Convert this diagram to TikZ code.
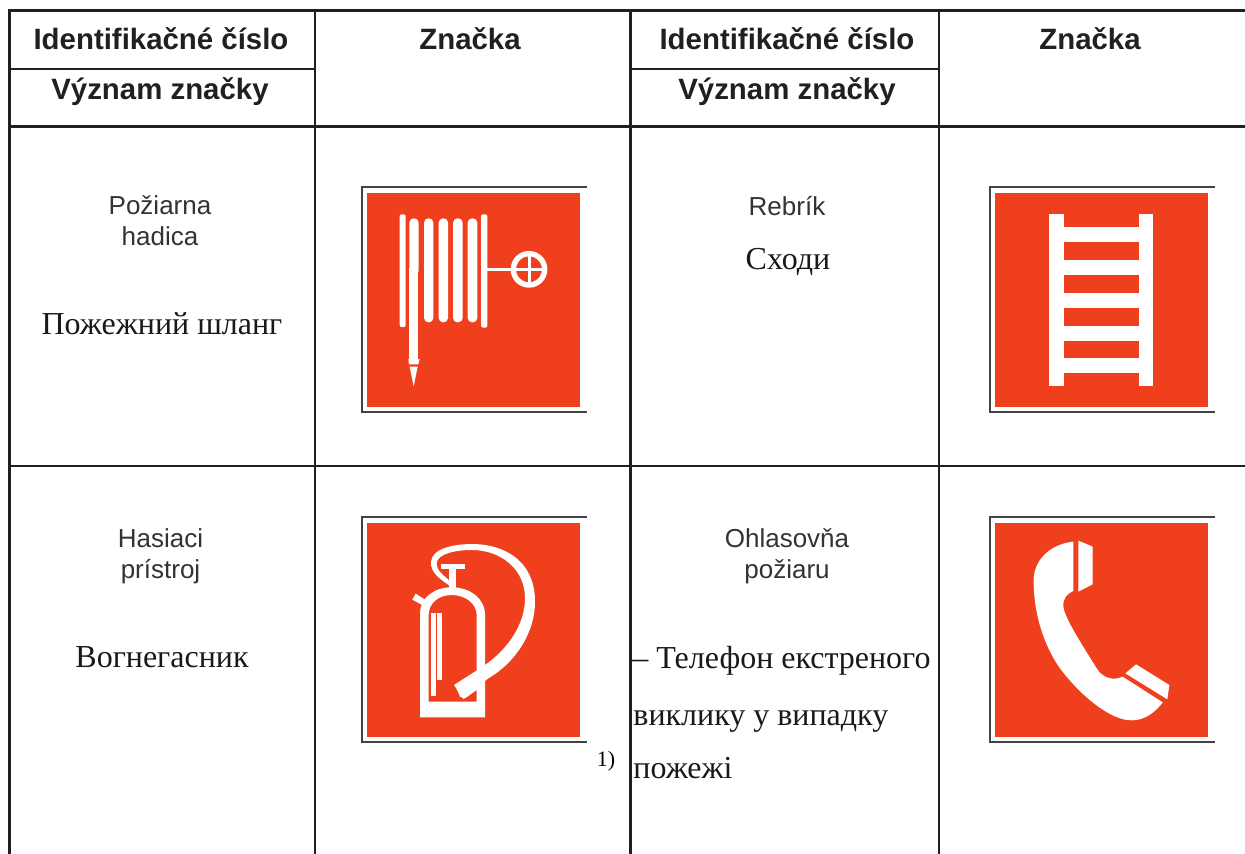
\documentclass[tikz,border=0pt]{standalone}
\usepackage{fontspec}
\setmainfont{Liberation Sans}
\newfontfamily\serifuk{Liberation Serif}
\definecolor{signred}{HTML}{F03F1C}
\definecolor{rule}{HTML}{231F20}
\tikzset{
  gridline/.style={draw=rule,line width=1.4pt},
  thingrid/.style={draw=rule,line width=1pt},
  head/.style={font=\fontsize{14.7}{16}\selectfont\bfseries,inner sep=0pt,anchor=base,text=rule},
  sk/.style={font=\fontsize{13}{15}\selectfont,inner sep=0pt,anchor=base,text=black!80},
  uk/.style={font=\serifuk\fontsize{16}{16}\selectfont,inner sep=0pt,anchor=base,text=black!90},
  ukl/.style={font=\serifuk\fontsize{16}{16}\selectfont,inner sep=0pt,anchor=base west,text=black!90},
  wh/.style={fill=white,draw=none},
  whl/.style={draw=white,fill=none}
}
\newcommand{\signbase}[4]{%
  \draw[draw=rule!85!white,line width=1pt] (#4,37) -- (#1,37) -- (#1,712) -- (#4,712);
  \fill[signred] (#2,53) rectangle (#3,695);
}
\begin{document}
\begin{tikzpicture}[x=0.5pt,y=-0.5pt]
\useasboundingbox (0,0) rectangle (1245,854);
\fill[white] (0,0) rectangle (1245,854);
% grid
\draw[gridline] (9.5,854) -- (9.5,10.7) -- (1245,10.7);
\draw[thingrid] (315,10) -- (315,854);
\draw[gridline] (630.5,10) -- (630.5,854);
\draw[thingrid] (939,10) -- (939,854);
\draw[gridline] (9,126.8) -- (1245,126.8);
\draw[thingrid] (9,466) -- (1245,466);
\draw[thingrid] (9,68.8) -- (315,68.8);
\draw[thingrid] (631,68.8) -- (939,68.8);
% header
\node[head] (h1) at (161,50) {Identifikačné číslo};
\node[head] (h2) at (160,100) {Význam značky};
\node[head] (h3) at (470,50) {Značka};
\node[head] (h4) at (787,50) {Identifikačné číslo};
\node[head] (h5) at (787,100) {Význam značky};
\node[head] (h6) at (1090,50) {Značka};
% row 1
\node[sk] (t1a) at (160,215) {Požiarna};
\node[sk] (t1b) at (160,246) {hadica};
\node[uk] (u1) at (162,335) {Пожежний шланг};
\node[sk] (t2) at (787,216) {Rebrík};
\node[uk] (u2) at (788,270) {Сходи};
% row 2
\node[sk] (t3a) at (160.5,547) {Hasiaci};
\node[sk] (t3b) at (160.5,578) {prístroj};
\node[uk] (u3) at (162,667) {Вогнегасник};
\node[sk] (t4a) at (787,547) {Ohlasovňa};
\node[sk] (t4b) at (787,578) {požiaru};
\node[ukl] (u4) at (632,668) {– Телефон екстреного};
\node[ukl] (u5) at (633,725) {виклику у випадку};
\node[ukl] (u6) at (633,778) {пожежі};
\node[font=\serifuk\fontsize{11}{11}\selectfont,inner sep=0pt,anchor=base] (fn) at (606,766) {1)};
% hose sign
\begin{scope}[shift={(350,175)},x=0.16667pt,y=-0.16667pt]
\signbase{36}{52}{690}{711}
\fill[wh,rounded corners=1pt] (149,118) rectangle (167,456);
\fill[wh,rounded corners=1pt] (393,118) rectangle (412,458);
\foreach \a/\b in {222/250,266/294,309/338,353/382}
  \fill[wh,rounded corners=2.2pt] (\a,130) rectangle (\b,442);
\fill[wh,rounded corners=2.2pt] (178,300) -- (178,130) -- (206,130) -- (206,300) -- cycle;
\fill[wh] (178,280) rectangle (204,552);
\fill[wh] (175,552) -- (209,552) -- (205,568) -- (177,568) -- cycle;
\fill[wh] (179,575) -- (203,575) -- (191,634) -- cycle;
\draw[whl,line width=1.7pt] (410,283) -- (490,283);
\draw[whl,line width=2.7pt] (537,283) circle[radius=47];
\draw[whl,line width=1.5pt] (491,283) -- (583,283) (537,237) -- (537,330);
\end{scope}
% ladder sign
\begin{scope}[shift={(980,175)},x=0.16667pt,y=-0.16667pt]
\signbase{29}{44}{685}{705}
\fill[wh] (208,118) rectangle (253,632);
\fill[wh] (476,118) rectangle (520,632);
\foreach \y in {157,256,354,452,549}
  \fill[wh] (253,\y) rectangle (476,\y+45);
\end{scope}
% extinguisher sign
\begin{scope}[shift={(350,505)},x=0.16667pt,y=-0.16667pt]
\signbase{36}{52}{690}{711}
% body
\fill[wh,even odd rule]
  (210,637) -- (210,325) .. controls (210,280) and (250,247) .. (305,247)
  .. controls (360,247) and (405,280) .. (405,330) -- (405,637) -- cycle
  (236,590) -- (380,590) -- (380,555) -- (345,580) -- (330,575) -- (315,540) -- (380,500) -- (380,330)
  .. controls (380,295) and (345,270) .. (305,270) .. controls (265,270) and (236,295) .. (236,330) -- cycle;
\fill[wh] (236,596) rectangle (380,604);
\fill[wh] (243,325) rectangle (257,574);
\fill[wh] (262,325) rectangle (277,524);
% lever
\fill[wh] (197,266) -- (232,288) -- (220,302) -- (187,284) -- cycle;
\fill[wh] (273,178) rectangle (345,193);
\fill[wh] (298,190) -- (318,190) -- (318,250) -- (298,250) -- cycle;
% hose
\fill[wh] (300,243) .. controls (275,225) and (240,205) .. (243,170)
  .. controls (247,130) and (310,117) .. (370,117)
  .. controls (480,120) and (555,180) .. (555,290)
  .. controls (555,380) and (500,470) .. (415,520)
  -- (340,582) -- (312,540) -- (390,490)
  .. controls (470,440) and (525,360) .. (525,280)
  .. controls (525,190) and (450,135) .. (365,135)
  .. controls (320,135) and (262,145) .. (260,175)
  .. controls (258,200) and (290,215) .. (305,235) -- cycle;
\end{scope}
% phone sign
\begin{scope}[shift={(980,505)},x=0.16667pt,y=-0.16667pt]
\signbase{29}{44}{685}{705}
\fill[wh] (280,110) -- (280,258)
  .. controls (262,265) and (248,280) .. (250,305)
  .. controls (255,340) and (300,410) .. (350,490)
  .. controls (365,515) and (395,530) .. (428,515)
  -- (548,592)
  .. controls (515,635) and (480,650) .. (440,645)
  .. controls (380,635) and (300,570) .. (240,490)
  .. controls (190,420) and (160,320) .. (161,225)
  .. controls (161,170) and (205,118) .. (280,110) -- cycle;
\fill[wh] (295,107) -- (338,125) -- (338,238) -- (295,260) -- cycle;
\fill[wh] (468,478) -- (568,540) -- (562,583) -- (436,505) -- cycle;
\end{scope}
\end{tikzpicture}
\end{document}
